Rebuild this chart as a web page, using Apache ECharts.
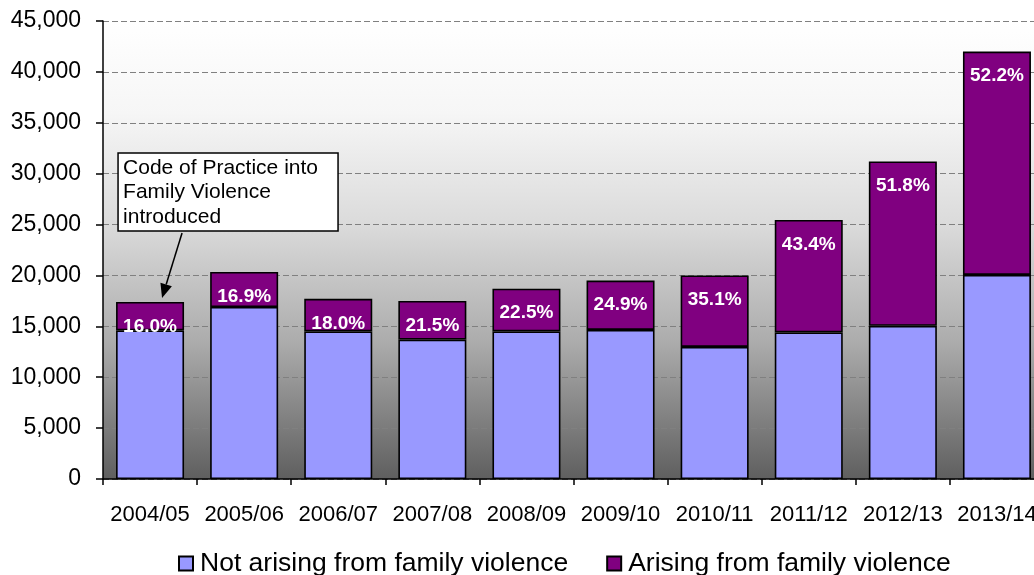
<!DOCTYPE html>
<html>
<head>
<meta charset="utf-8">
<script src="https://cdn.jsdelivr.net/npm/echarts@6/dist/echarts.min.js"></script>
<style>
html,body{margin:0;padding:0;background:#fff;overflow:hidden;}
#chart{width:1050px;height:575px;}
</style>
</head>
<body>
<div id="chart"></div>
<script>
// ---- data ----
var categories = ['2004/05','2005/06','2006/07','2007/08','2008/09','2009/10','2010/11','2011/12','2012/13','2013/14'];
var notArising = [14600, 16900, 14500, 13700, 14500, 14650, 12980, 14400, 15050, 20050];
var arising    = [2800, 3450, 3200, 3800, 4200, 4850, 7020, 11050, 16150, 21950];
var pctLabels  = ['16.0%','16.9%','18.0%','21.5%','22.5%','24.9%','35.1%','43.4%','51.8%','52.2%'];
var yTicks = {min: 0, max: 45000, interval: 5000};
var seriesNames = ['Not arising from family violence', 'Arising from family violence'];
var annotationText = ['Code of Practice into', 'Family Violence', 'introduced'];

var FONT = '"Liberation Sans", Arial, sans-serif';
var chart = echarts.init(document.getElementById('chart'), null, {renderer: 'canvas'});

function fmt(v){ return String(v).replace(/\B(?=(\d{3})+(?!\d))/g, ','); }

var option = {
  animation: false,
  textStyle: {fontFamily: FONT},
  grid: {
    left: 103, top: 21, width: 941, height: 458,
    show: true, borderWidth: 0,
    backgroundColor: new echarts.graphic.LinearGradient(0, 0, 0, 1, [
      {offset: 0, color: '#ffffff'},
      {offset: 0.2, color: '#f6f6f6'},
      {offset: 0.45, color: '#dadada'},
      {offset: 0.7, color: '#acacac'},
      {offset: 1, color: '#5f5f5f'}
    ])
  },
  legend: {
    top: 550, left: 178, padding: 0,
    icon: 'rect', itemWidth: 14, itemHeight: 14, itemGap: 38,
    textStyle: {fontSize: 26.5, color: '#000', fontFamily: FONT, padding: [0,0,0,2]},
    data: seriesNames
  },
  xAxis: {
    type: 'category', data: categories,
    axisLine: {lineStyle: {color: '#000', width: 1.5}},
    axisTick: {show: true, length: 6, lineStyle: {color: '#000', width: 1.5}},
    axisLabel: {interval: 0, fontSize: 22, color: '#000', margin: 25, fontFamily: FONT}
  },
  yAxis: {
    type: 'value', min: yTicks.min, max: yTicks.max, interval: yTicks.interval,
    axisLine: {show: true, lineStyle: {color: '#000', width: 1.5}},
    axisTick: {show: true, length: 7, lineStyle: {color: '#000', width: 1.5}},
    axisLabel: {fontSize: 23, color: '#000', margin: 22, formatter: fmt, fontFamily: FONT},
    splitLine: {show: true, lineStyle: {color: '#808080', type: [6, 3], width: 1.2}}
  },
  series: [
    {
      name: seriesNames[0], type: 'bar', stack: 'total', data: notArising,
      barWidth: 68,
      itemStyle: {color: '#9999FF', borderColor: '#000', borderWidth: 1.6}
    },
    {
      name: seriesNames[1], type: 'bar', stack: 'total', data: arising,
      barWidth: 68,
      itemStyle: {color: '#800080', borderColor: '#000', borderWidth: 1.6},
      label: {
        show: true, position: 'insideTop', distance: 15,
        color: '#fff', fontWeight: 'bold', fontSize: 19, fontFamily: FONT,
        formatter: function(p){ return pctLabels[p.dataIndex]; }
      }
    }
  ]
};
chart.setOption(option);

// annotation anchored to the first bar's top
var tip = chart.convertToPixel({xAxisIndex: 0, yAxisIndex: 0}, [0, notArising[0] + arising[0]]);
var tipX = tip[0] + 12, tipY = tip[1] - 4;
var boxX = tipX - 44, boxY = tipY - 145, boxW = 220, boxH = 78;
var tailX = tipX + 20, tailY = boxY + boxH + 2;
var ang = Math.atan2(tipY - tailY, tipX - tailX);
var hl = 14, hw = 6;
var bx = tipX - hl*Math.cos(ang), by = tipY - hl*Math.sin(ang);
var px = -Math.sin(ang), py = Math.cos(ang);
chart.setOption({
  graphic: [
    {type: 'rect', shape: {x: boxX, y: boxY, width: boxW, height: boxH},
     style: {fill: '#fff', stroke: '#000', lineWidth: 1.5}, z: 100},
    {type: 'text', x: boxX + 5, y: boxY + 3,
     style: {text: annotationText.join('\n'), lineHeight: 24.5, fill: '#000', font: '21px ' + FONT}, z: 101},
    {type: 'line', shape: {x1: tailX, y1: tailY, x2: bx, y2: by},
     style: {stroke: '#000', lineWidth: 1.5}, z: 100},
    {type: 'polygon', shape: {points: [[tipX, tipY], [bx + px*hw, by + py*hw], [bx - px*hw, by - py*hw]]},
     style: {fill: '#000'}, z: 100}
  ]
});
</script>
</body>
</html>
